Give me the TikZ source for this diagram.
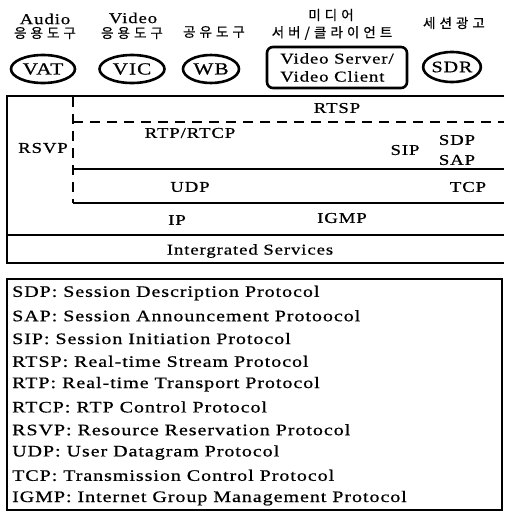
\documentclass[tikz,border=0pt]{standalone}
\usepackage{fontspec}
\setmainfont{Liberation Serif}[FakeStretch=1.25,LetterSpace=6,FakeBold=0.7]
\newfontfamily\krfont{Noto Sans CJK KR}[LetterSpace=30,FakeBold=0.6]
\usetikzlibrary{shapes.geometric}
\begin{document}
\begin{tikzpicture}[x=1pt,y=-1pt,
  lbl/.style={inner sep=0pt, font=\fontsize{15}{17}\selectfont},
  kr/.style={inner sep=0pt, font=\krfont\fontsize{13.5}{15}\selectfont},
  tool/.style={ellipse, draw, line width=2.6pt, inner sep=0pt, font=\fontsize{17}{19}\selectfont},
  frame/.style={line width=2.6pt},
  layer/.style={line width=2.3pt},
  dashedline/.style={line width=2.6pt, dash pattern=on 10pt off 7pt},
  legend/.style={anchor=west, inner sep=0pt, font=\fontsize{16}{18}\selectfont}]
\useasboundingbox (0,0) rectangle (504,512);

% applications
\node[lbl] (audio) at (45,19) {Audio};
\node[kr] (audiokr) at (45,33) {응용도구};
\node[tool, minimum width=64pt, minimum height=28pt] (vat) at (43,69) {VAT};
\node[lbl] (video) at (133,18) {Video};
\node[kr] (videokr) at (132,33) {응용도구};
\node[tool, minimum width=65pt, minimum height=28pt] (vic) at (132,69) {VIC};
\node[kr] (wbkr) at (214,32) {공유도구};
\node[tool, minimum width=56pt, minimum height=28pt] (wb) at (211,69) {WB};
\node[kr] (mediakr) at (331,15) {미디어};
\node[kr] (serverkr) at (332,33) {서버/클라이언트};
\node[draw, rounded corners=6pt, line width=2.6pt, minimum width=140pt, minimum height=41pt,
      align=left, inner sep=0pt, font=\fontsize{15}{18}\selectfont] (vs) at (337,67.5)
      {Video Server/\\Video Client};
\node[kr] (sdrkr) at (454,23) {세션광고};
\node[tool, minimum width=54pt, minimum height=30pt, font=\fontsize{16}{18}\selectfont] (sdr) at (452,67) {SDR};

% protocol stack
\draw[frame] (504,96) -- (7,96) -- (7,263) -- (504,263);
\draw[layer] (7,235) -- (504,235);
\draw[layer] (73,203) -- (504,203);
\draw[layer] (73,169) -- (504,169);
\draw[dashedline] (73,97) -- (73,203);
\draw[dashedline] (73,122) -- (504,122);

\node[lbl] (rtsp) at (337,108) {RTSP};
\node[lbl] (rtp) at (190,133) {RTP/RTCP};
\node[lbl] (sip) at (405,150) {SIP};
\node[lbl] (sdp) at (457,140) {SDP};
\node[lbl] (sap) at (457,160) {SAP};
\node[lbl] (rsvp) at (43,148) {RSVP};
\node[lbl] (udp) at (190,187) {UDP};
\node[lbl] (tcp) at (468,187) {TCP};
\node[lbl] (ip) at (177,220) {IP};
\node[lbl] (igmp) at (342,218) {IGMP};
\node[lbl] (is) at (250,251) {Intergrated Services};

% glossary
\draw[frame] (7,279) rectangle (502,510);
\foreach \i/\t in {0/{SDP: Session Description Protocol},
                   1/{SAP: Session Announcement Protoocol},
                   2/{SIP: Session Initiation Protocol},
                   3/{RTSP: Real-time Stream Protocol},
                   4/{RTP: Real-time Transport Protocol},
                   5/{RTCP: RTP Control Protocol},
                   6/{RSVP: Resource Reservation Protocol},
                   7/{UDP: User Datagram Protocol},
                   8/{TCP: Transmission Control Protocol},
                   9/{IGMP: Internet Group Management Protocol}}
  \node[legend] (leg\i) at (12,293+22.8*\i) {\t};
\end{tikzpicture}
\end{document}
